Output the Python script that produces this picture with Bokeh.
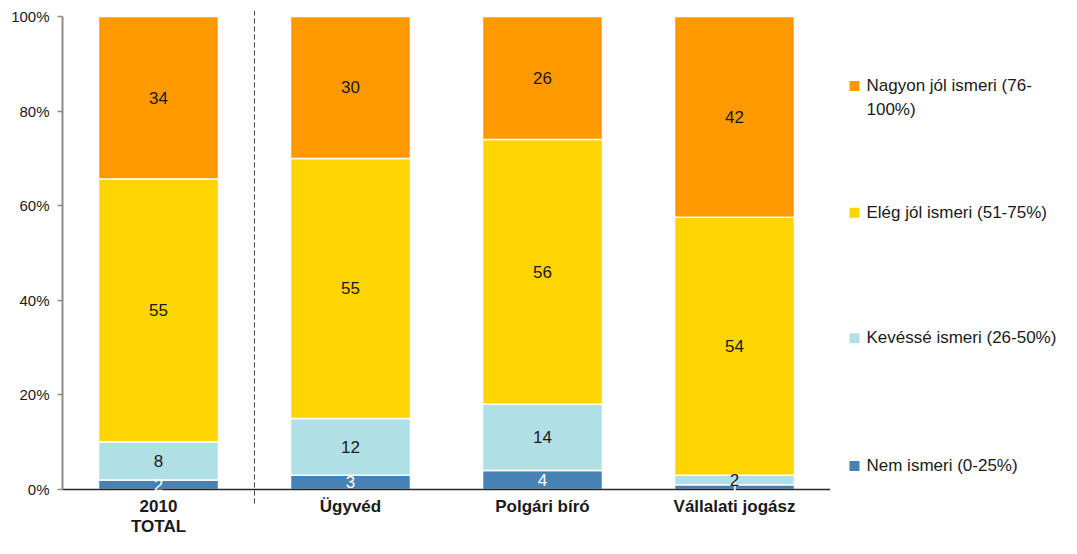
import numpy as np
from bokeh.plotting import figure
from bokeh.layouts import row
from bokeh.models import Range1d, FixedTicker, PrintfTickFormatter, ColumnDataSource
from bokeh.core.properties import value
from bokeh.embed import file_html
from bokeh.resources import INLINE

# ---- data ----
categories = ["2010\nTOTAL", "Ügyvéd", "Polgári bíró", "Vállalati jogász"]
nem_ismeri = [2, 3, 4, 1]
kevesse_ismeri = [8, 12, 14, 2]
eleg_jol_ismeri = [55, 55, 56, 54]
nagyon_jol_ismeri = [34, 30, 26, 42]
series_names = ["Nem ismeri (0-25%)", "Kevéssé ismeri (26-50%)",
                "Elég jól ismeri (51-75%)", "Nagyon jól ismeri (76-\n100%)"]
y_ticks = [0, 20, 40, 60, 80, 100]

# ---- styles ----
colors = ["#4682B4", "#B0DFE5", "#FFD500", "#FF9900"]
label_colors = ["white", "#1a1a1a", "#1a1a1a", "#1a1a1a"]
FONT = "Liberation Sans"

H = 538
top_px = 10      # frame top
y100_px = 16     # pixel row of 100 %
y0_px = 489      # pixel row of 0 %
ppu = (y0_px - y100_px) / 100.0
ymax = 100 + (y100_px - top_px) / ppu
ymin = ymax - (H - top_px) / ppu

p = figure(width=830, height=H, x_range=Range1d(-0.5, 3.5), y_range=Range1d(ymin, ymax),
           output_backend="svg", toolbar_location=None, x_axis_location=None,
           min_border_left=62, min_border_right=0, min_border_top=top_px, min_border_bottom=0)
p.outline_line_color = None
p.grid.visible = False
p.background_fill_color = "white"

yaxis = p.yaxis[0]
yaxis.bounds = (0, 100)
yaxis.ticker = FixedTicker(ticks=y_ticks)
yaxis.formatter = PrintfTickFormatter(format="%d%%")
yaxis.axis_line_color = "#8c8c8c"
yaxis.axis_line_width = 2
yaxis.major_tick_line_color = "#8c8c8c"
yaxis.major_tick_line_width = 1.5
yaxis.major_tick_out = 5
yaxis.major_tick_in = 0
yaxis.minor_tick_line_color = None
yaxis.major_label_standoff = 8
yaxis.major_label_text_font = FONT
yaxis.major_label_text_font_size = "15px"
yaxis.major_label_text_color = "#1a1a1a"

xs = list(range(len(categories)))
data = np.array([nem_ismeri, kevesse_ismeri, eleg_jol_ismeri, nagyon_jol_ismeri], dtype=float)
totals = data.sum(axis=0)
cum = np.vstack([np.zeros(len(xs)), np.cumsum(data, axis=0)]) / totals * 100

label_sources = []
for i in range(len(data)):
    bottom = cum[i]
    top = cum[i + 1]
    src = ColumnDataSource(dict(x=xs, bottom=bottom, top=top, mid=(bottom + top) / 2,
                                label=[str(int(v)) for v in data[i]]))
    p.vbar(x="x", width=0.625, bottom="bottom", top="top", source=src,
           fill_color=colors[i], line_color="white", line_width=1.5)
    label_sources.append(src)

# x axis baseline and separator
p.segment(x0=[-0.52], y0=[0], x1=[3.5], y1=[0], line_color="#262626", line_width=1.5)
p.segment(x0=[0.5], y0=[-14 / ppu], x1=[0.5], y1=[ymax], line_color="#404040",
          line_width=1, line_dash="5 3")

for i, src in enumerate(label_sources):
    p.text(x="x", y="mid", text="label", source=src, text_align="center",
           text_baseline="middle", text_font=value(FONT), text_font_size="17px",
           text_color=label_colors[i])

# category labels
p.text(x=xs, y=[0] * len(xs), text=categories, y_offset=7, text_align="center",
       text_baseline="top", text_font=value(FONT), text_font_size="17px",
       text_font_style="bold", text_color="#1a1a1a", text_line_height=1.1)

# ---- legend figure ----
LW = 1061 - 830
lg = figure(width=LW, height=H, x_range=Range1d(0, LW), y_range=Range1d(H, 0),
            output_backend="svg", toolbar_location=None, x_axis_location=None,
            y_axis_location=None, min_border=0)
lg.outline_line_color = None
lg.grid.visible = False
order = list(range(len(series_names)))[::-1]
ly = [78, 207, 335, 465]
lg.scatter(x=[24] * len(order), y=[v - 1 for v in ly], marker="square", size=10,
           fill_color=[colors[i] for i in order], line_color=None)
lg.text(x=[36] * len(order), y=[v - 11 for v in ly], text=[series_names[i] for i in order],
        text_align="left", text_baseline="top", text_font=value(FONT),
        text_font_size="17px", text_color="#1a1a1a", text_line_height=1.25)

layout = row(p, lg)
open("out.html", "w").write(file_html(layout, INLINE))
